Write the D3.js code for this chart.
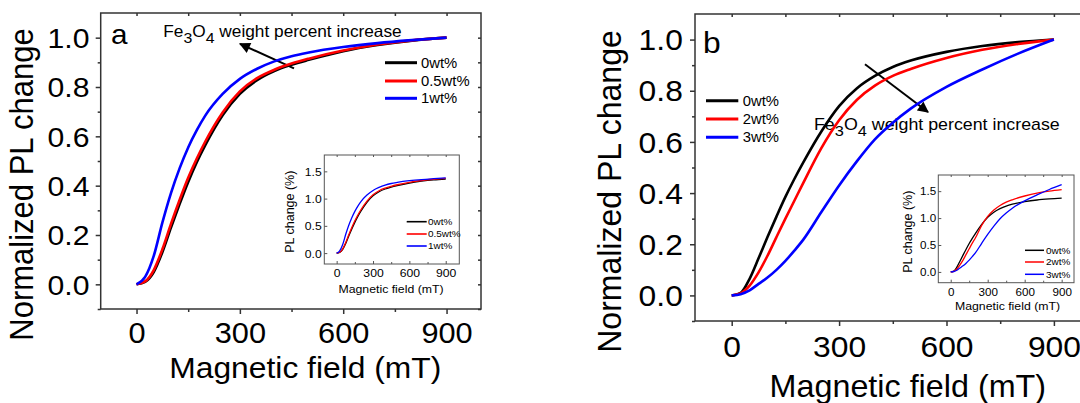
<!DOCTYPE html>
<html>
<head>
<meta charset="utf-8">
<script src="https://cdn.jsdelivr.net/npm/d3@7"></script>
<style>
  body { margin: 0; background: #fff; }
  svg { display: block; font-family: "Liberation Sans", Arial, sans-serif; }
</style>
</head>
<body>
<svg id="chart" width="1080" height="403"></svg>
<script>
// field values (mT) shared by every curve
var field = [0, 25, 50, 75, 100, 125, 150, 175, 200, 250, 300, 350, 400, 450, 500, 600, 700, 800, 900];

// panel a, normalized
var aLabels = ["0wt%", "0.5wt%", "1wt%"];
var aBlack = [0, 0.01, 0.05, 0.13, 0.23, 0.325, 0.415, 0.495, 0.565, 0.685, 0.772, 0.828, 0.865, 0.89, 0.91, 0.945, 0.97, 0.988, 1.0];
var aRed   = [0, 0.012, 0.058, 0.142, 0.245, 0.342, 0.432, 0.51, 0.58, 0.697, 0.782, 0.836, 0.87, 0.895, 0.915, 0.948, 0.972, 0.989, 1.0];
var aBlue  = [0, 0.03, 0.115, 0.25, 0.37, 0.47, 0.555, 0.625, 0.685, 0.772, 0.833, 0.874, 0.904, 0.925, 0.94, 0.962, 0.978, 0.99, 1.0];
// panel a inset, PL change (%)
var aiBlack = [0, 0.014, 0.068, 0.177, 0.313, 0.442, 0.564, 0.673, 0.768, 0.932, 1.05, 1.126, 1.176, 1.21, 1.238, 1.285, 1.319, 1.344, 1.36];
var aiRed   = [0, 0.016, 0.079, 0.195, 0.336, 0.469, 0.592, 0.699, 0.795, 0.955, 1.071, 1.145, 1.192, 1.226, 1.254, 1.299, 1.332, 1.355, 1.37];
var aiBlue  = [0, 0.041, 0.159, 0.345, 0.511, 0.649, 0.766, 0.863, 0.945, 1.065, 1.15, 1.206, 1.248, 1.277, 1.297, 1.328, 1.35, 1.366, 1.38];

// panel b, normalized
var bLabels = ["0wt%", "2wt%", "3wt%"];
var bBlack = [0, 0.01, 0.065, 0.145, 0.228, 0.308, 0.385, 0.455, 0.52, 0.64, 0.74, 0.81, 0.858, 0.893, 0.918, 0.952, 0.975, 0.99, 1.0];
var bRed   = [0, 0.008, 0.038, 0.09, 0.155, 0.228, 0.30, 0.37, 0.44, 0.575, 0.685, 0.765, 0.82, 0.858, 0.885, 0.928, 0.96, 0.983, 1.0];
var bBlue  = [0, 0.005, 0.02, 0.045, 0.07, 0.1, 0.135, 0.175, 0.218, 0.325, 0.43, 0.525, 0.61, 0.675, 0.73, 0.815, 0.883, 0.945, 1.0];
// panel b inset
var biBlack = [0, 0.014, 0.089, 0.199, 0.312, 0.422, 0.527, 0.623, 0.712, 0.877, 1.014, 1.11, 1.175, 1.223, 1.258, 1.304, 1.336, 1.356, 1.37];
var biRed   = [0, 0.012, 0.055, 0.13, 0.22, 0.325, 0.43, 0.535, 0.63, 0.86, 1.03, 1.15, 1.235, 1.295, 1.34, 1.41, 1.465, 1.502, 1.53];
var biBlue  = [0, 0.008, 0.032, 0.073, 0.113, 0.162, 0.219, 0.284, 0.353, 0.527, 0.697, 0.851, 0.988, 1.094, 1.183, 1.32, 1.43, 1.531, 1.62];

var xTicks = [0, 300, 600, 900], xMinor = [150, 450, 750];
var yTicks = [0, 0.2, 0.4, 0.6, 0.8, 1.0], yMinor = [-0.1, 0.1, 0.3, 0.5, 0.7, 0.9];
var iyTicks = [0, 0.5, 1.0, 1.5];
var colors = ["#000000", "#ff0000", "#0000ff"];

var SX = 1.06; // the picture is a bit wider than tall, text too
var svg = d3.select("#chart");

function txt(g, x, y, s, size, anchor, rot) {
	return g.append("text")
		.attr("transform", "translate(" + x + "," + y + ") scale(" + SX + ",1)" + (rot ? " rotate(" + rot + ")" : ""))
		.attr("text-anchor", anchor || "start")
		.attr("font-size", size)
		.text(s);
}

function frame(g, x, y, o) {
	var r = x.range(), t = y.range();
	var tick = o.inward ? -1 : 1;
	var bot = g.append("g").attr("transform", "translate(0," + t[0] + ")")
		.call(d3.axisBottom(x).tickValues(xTicks).tickSize(tick * o.major).tickFormat(d3.format("d")));
	var left = g.append("g").attr("transform", "translate(" + r[0] + ",0)")
		.call(d3.axisLeft(y).tickValues(o.yt).tickSize(tick * o.major).tickFormat(d3.format(".1f")));
	g.append("g").attr("transform", "translate(0," + t[0] + ")")
		.call(d3.axisBottom(x).tickValues(xMinor).tickSize(tick * o.minor).tickFormat(""));
	g.append("g").attr("transform", "translate(0," + t[1] + ")")
		.call(d3.axisTop(x).tickValues(xTicks.concat(xMinor)).tickSize(-o.minor).tickFormat(""));
	if (o.ym) {
		g.append("g").attr("transform", "translate(" + r[0] + ",0)")
			.call(d3.axisLeft(y).tickValues(o.ym).tickSize(tick * o.minor).tickFormat(""));
		g.append("g").attr("transform", "translate(" + r[1] + ",0)")
			.call(d3.axisRight(y).tickValues(o.yt.concat(o.ym)).tickSize(-o.minor).tickFormat(""));
	}
	g.selectAll(".domain").remove();
	g.selectAll(".tick line").attr("stroke", o.stroke).attr("stroke-width", o.sw);
	bot.selectAll("text").attr("dy", null).attr("y", o.xlab)
		.attr("font-size", o.fx).attr("fill", "#000").attr("font-family", null)
		.attr("transform", "scale(" + SX + ",1)");
	left.selectAll("text").attr("x", o.ylab).attr("dy", "0.34em")
		.attr("font-size", o.fy).attr("fill", "#000").attr("font-family", null)
		.attr("transform", "scale(" + SX + ",1)");
	g.append("rect")
		.attr("x", r[0]).attr("y", t[1])
		.attr("width", r[1] - r[0]).attr("height", t[0] - t[1])
		.attr("fill", "none").attr("stroke", o.stroke).attr("stroke-width", o.sw);
}

function curves(g, x, y, series, w) {
	var line = d3.line()
		.x(function (d, i) { return x(field[i]); })
		.y(function (d) { return y(d); })
		.curve(d3.curveMonotoneX);
	series.forEach(function (s, i) {
		g.append("path").datum(s)
			.attr("d", line).attr("fill", "none")
			.attr("stroke", colors[i]).attr("stroke-width", w);
	});
}

function legend(g, lx, ly, labels, o) {
	labels.forEach(function (l, i) {
		var yy = ly[i];
		g.append("line").attr("x1", lx[0]).attr("x2", lx[1]).attr("y1", yy).attr("y2", yy)
			.attr("stroke", colors[i]).attr("stroke-width", o.w);
		txt(g, lx[2], yy + o.size * 0.36, l, o.size);
	});
}

function fe3o4(g, x, y, size) {
	var t = g.append("text")
		.attr("transform", "translate(" + x + "," + y + ") scale(" + SX + ",1)")
		.attr("font-size", size);
	t.append("tspan").text("Fe");
	t.append("tspan").attr("dy", 6).attr("font-size", size * 0.92).text("3");
	t.append("tspan").attr("dy", -6).text("O");
	t.append("tspan").attr("dy", 6).attr("font-size", size * 0.92).text("4");
	t.append("tspan").attr("dy", -6).text(" weight percent increase");
}

svg.append("defs").append("marker")
	.attr("id", "head").attr("viewBox", "0 0 10 10")
	.attr("refX", 9).attr("refY", 5)
	.attr("markerWidth", 6).attr("markerHeight", 5.5)
	.attr("markerUnits", "strokeWidth")
	.attr("orient", "auto")
	.append("path").attr("d", "M0,0L10,5L0,10z").attr("fill", "#000");

function arrow(g, x1, y1, x2, y2) {
	g.append("line").attr("x1", x1).attr("y1", y1).attr("x2", x2).attr("y2", y2)
		.attr("stroke", "#000").attr("stroke-width", 2).attr("marker-end", "url(#head)");
}

// ===== panel a =====
var ga = svg.append("g");
var xa = d3.scaleLinear().domain([-104, 1000]).range([100.7, 481]);
var ya = d3.scaleLinear().domain([-0.1, 1.1]).range([309, 13]);
frame(ga, xa, ya, { yt: yTicks, ym: yMinor, major: 5, minor: 3, stroke: "#333", sw: 1.5,
	xlab: 34, ylab: -10.5, fx: 29, fy: 28.5 });
txt(ga, 33, 184.5, "Normalized PL change", 31, "middle", -90);
txt(ga, 305.3, 378.3, "Magnetic field (mT)", 30, "middle");
txt(ga, 111, 44, "a", 28);
fe3o4(ga, 163.3, 37.3, 16.3);
arrow(ga, 294, 68.3, 240, 43.8);
curves(ga, xa, ya, [aBlack, aRed, aBlue], 2.6);
legend(ga, [385, 417, 421], [62.7, 81, 98.3], aLabels, { w: 3, size: 14 });

// inset a
var gai = svg.append("g");
var xai = d3.scaleLinear().domain([-102, 1012]).range([324.3, 459.3]);
var yai = d3.scaleLinear().domain([-0.2, 1.8]).range([264, 155]);
frame(gai, xai, yai, { yt: iyTicks, ym: null, major: 3, minor: 2, inward: true, stroke: "#555", sw: 1,
	xlab: 12.7, ylab: -2.5, fx: 11.5, fy: 11.5 });
txt(gai, 294, 211.7, "PL change (%)", 12.5, "middle", -90);
txt(gai, 391, 293.3, "Magnetic field (mT)", 11.6, "middle");
curves(gai, xai, yai, [aiBlack, aiRed, aiBlue], 1.3);
legend(gai, [406.7, 426.7, 428], [221.7, 234, 246], aLabels, { w: 1.6, size: 9.4 });

// ===== panel b =====
var gb = svg.append("g");
var xb = d3.scaleLinear().domain([-102.5, 1000]).range([695, 1089.7]);
var yb = d3.scaleLinear().domain([-0.1, 1.1]).range([321, 14]);
frame(gb, xb, yb, { yt: yTicks, ym: yMinor, major: 5, minor: 3, stroke: "#333", sw: 1.5,
	xlab: 35.7, ylab: -11.5, fx: 30, fy: 30 });
txt(gb, 621, 191.5, "Normalized PL change", 32, "middle", -90);
txt(gb, 907.8, 396.7, "Magnetic field (mT)", 30.5, "middle");
txt(gb, 703, 53.3, "b", 30);
fe3o4(gb, 814, 130, 16.8);
arrow(gb, 865, 64.3, 928, 112);
curves(gb, xb, yb, [bBlack, bRed, bBlue], 2.6);
legend(gb, [706, 738.3, 742.7], [100.7, 119, 137.3], bLabels, { w: 3, size: 14 });

// inset b
var gbi = svg.append("g");
var xbi = d3.scaleLinear().domain([-100.6, 1000]).range([938.3, 1074]);
var ybi = d3.scaleLinear().domain([-0.2, 1.8]).range([282.7, 175]);
frame(gbi, xbi, ybi, { yt: iyTicks, ym: null, major: 3, minor: 2, inward: true, stroke: "#555", sw: 1,
	xlab: 13.3, ylab: -2, fx: 11, fy: 11 });
txt(gbi, 912, 231.7, "PL change (%)", 12.5, "middle", -90);
txt(gbi, 1007.5, 310, "Magnetic field (mT)", 11.6, "middle");
curves(gbi, xbi, ybi, [biBlack, biRed, biBlue], 1.3);
legend(gbi, [1025, 1044, 1046], [250.3, 262, 274.3], bLabels, { w: 1.5, size: 9.4 });
</script>
</body>
</html>
